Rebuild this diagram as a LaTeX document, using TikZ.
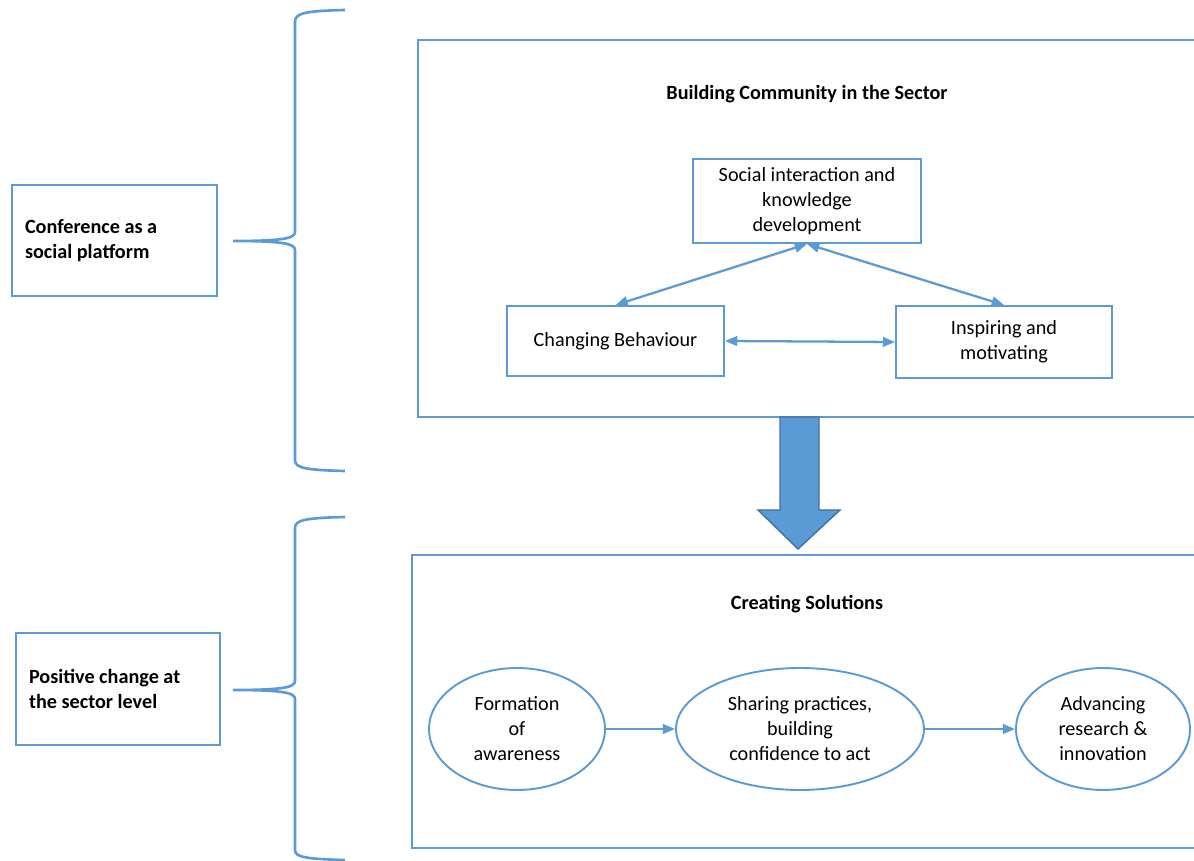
\documentclass[tikz,border=0pt]{standalone}
\usepackage{fontspec}
\setmainfont{Carlito}
\usetikzlibrary{arrows.meta, positioning, shapes.geometric}
\definecolor{lineblue}{RGB}{91,155,213}
\definecolor{edgeblue}{RGB}{65,113,156}

\begin{document}
\begin{tikzpicture}[x=0.02cm, y=-0.02cm,
    every node/.style={font=\fontsize{11.5}{14.2}\selectfont},
    box/.style={draw=lineblue, line width=1.1pt, align=flush center, inner sep=2pt},
    sidebox/.style={draw=lineblue, line width=1.1pt, align=flush left, font=\fontsize{11.5}{14.2}\selectfont\bfseries},
    oval/.style={draw=lineblue, line width=1.1pt, ellipse, align=flush center, inner sep=0pt, minimum height=2.44cm},
    heading/.style={font=\fontsize{11.5}{14.2}\selectfont\bfseries},
    frame/.style={draw=lineblue, line width=1.1pt},
    bracket/.style={draw=lineblue, line width=1.5pt},
    link/.style={draw=lineblue, line width=1.3pt, -{Triangle[length=7pt,width=5.5pt]}},
    dlink/.style={link, {Triangle[length=7pt,width=5.5pt]}-{Triangle[length=7pt,width=5.5pt]}}]
    \useasboundingbox (0,0) rectangle (1194,861);

    % left labels
    \node[sidebox, minimum width=4.1cm, minimum height=2.22cm, text width=3.58cm] (platform) at (114.5,240.5) {Conference as a\\social platform};
    \node[sidebox, minimum width=4.08cm, minimum height=2.24cm, text width=3.56cm] (change) at (118,689) {Positive change at\\the sector level};

    % braces
    \coordinate (tipA) at (233,241);
    \coordinate (tipB) at (233,690);
    \draw[bracket] (345,10) .. controls (305,11) and (295,13) .. (295,22) -- (295,232)
        .. controls (295,238) and (285,241) .. (tipA)
        .. controls (285,241) and (295,244) .. (295,250) -- (295,460)
        .. controls (295,468) and (305,470) .. (345,471);
    \draw[bracket] (345,517) .. controls (305,518) and (295,520) .. (295,528) -- (295,681)
        .. controls (295,687) and (285,690) .. (tipB)
        .. controls (285,690) and (295,693) .. (295,699) -- (295,850)
        .. controls (295,857) and (305,859) .. (345,860);

    % Building Community frame
    \draw[frame] (1194,40) -| (418,417) -- (1194,417);
    \node[heading] (titleA) at (807,94) {Building Community in the Sector};
    \node[box, minimum width=4.56cm, minimum height=1.68cm] (social) at (807,201) {Social interaction and\\knowledge\\development};
    \node[box, minimum width=4.34cm, minimum height=1.4cm] (behaviour) at (615.5,341) {Changing Behaviour};
    \node[box, minimum width=4.32cm, minimum height=1.44cm] (inspire) at (1004,342) {Inspiring and\\motivating};

    % arrows between
    \draw[dlink] (social.south) -- (behaviour.north);
    \draw[dlink] (social.south) -- (inspire.north);
    \draw[dlink] (behaviour.east) -- (inspire.west);

    % big arrow
    \filldraw[fill=lineblue, draw=edgeblue, line width=0.8pt] (780,417) -- (819,417) -- (819,510) -- (840,510)
        -- (798,549) -- (758,510) -- (780,510) -- cycle;

    % Creating Solutions frame
    \draw[frame] (1194,555) -| (412,848) -- (1194,848);
    \node[heading] (titleB) at (807,604) {Creating Solutions};
    \node[oval, minimum width=3.52cm] (awareness) at (517,729) {Formation\\of\\awareness};
    \node[oval, minimum width=4.96cm] (sharing) at (800,729) {Sharing practices,\\building\\confidence to act};
    \node[oval, minimum width=3.48cm] (research) at (1103,729) {Advancing\\research \&\\innovation};

    \draw[link] (awareness) -- (sharing);
    \draw[link] (sharing) -- (research);
\end{tikzpicture}
\end{document}
